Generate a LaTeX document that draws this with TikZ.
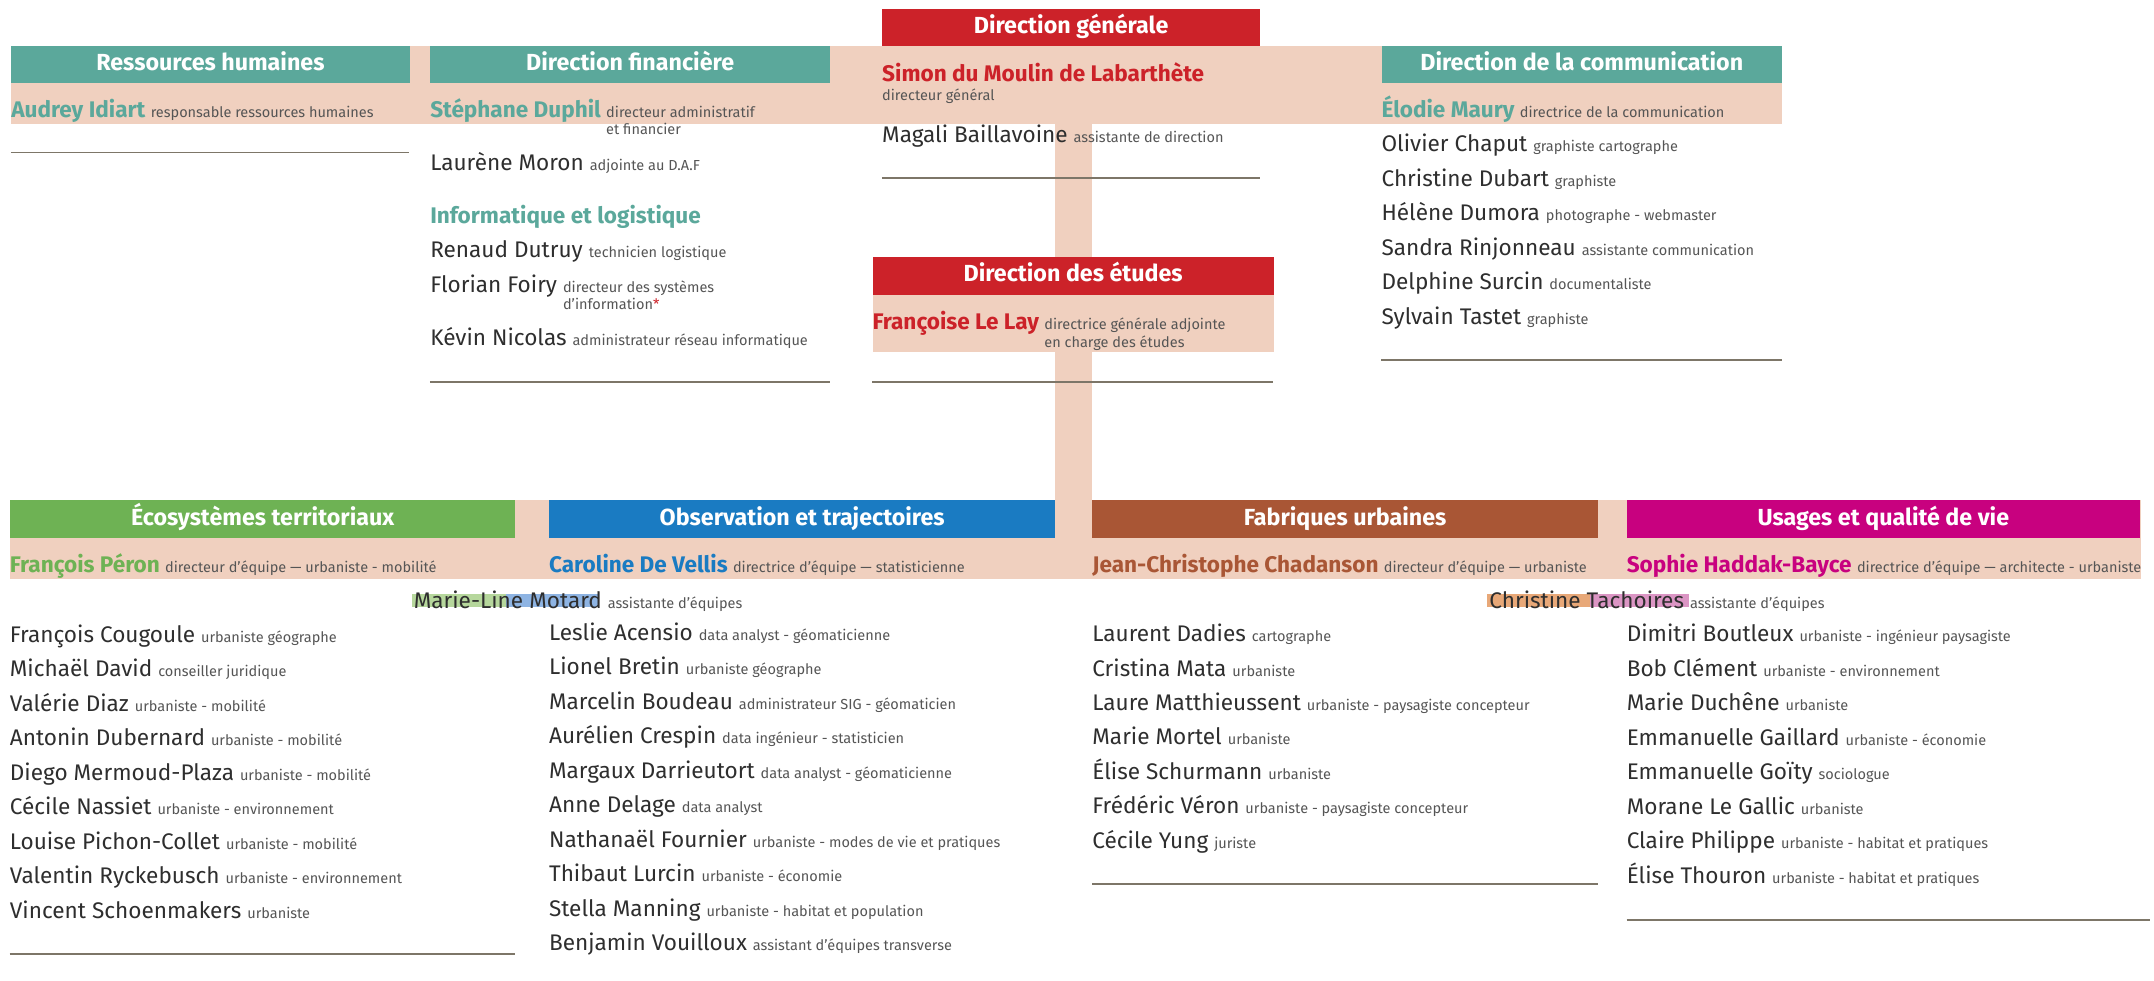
\documentclass[tikz,border=0pt]{standalone}
\usepackage{fontspec}
\setmainfont{Fira Sans}
\usetikzlibrary{positioning}

\definecolor{peach}{HTML}{F0D0BF}
\definecolor{sage}{HTML}{5BA89B}
\definecolor{dgred}{HTML}{CC2229}
\definecolor{ecogreen}{HTML}{6EB254}
\definecolor{obsblue}{HTML}{1A7BC2}
\definecolor{fabbrown}{HTML}{A95635}
\definecolor{usamagenta}{HTML}{C8017F}
\definecolor{namegray}{HTML}{2E2E2E}
\definecolor{rolegray}{HTML}{555555}
\definecolor{rulegray}{HTML}{7D7668}
\definecolor{hlgreen}{HTML}{B6D79C}
\definecolor{hlblue}{HTML}{8EB4E3}
\definecolor{hlorange}{HTML}{E8A878}
\definecolor{hlpink}{HTML}{DB95C4}

\newcommand{\fonction}[1]{{\fontsize{10.6}{12.8}\selectfont\mdseries\color{rolegray}#1}}
\newcommand{\deuxlignes}[2]{\begin{tabular}[t]{@{}l@{}}#1\\#2\end{tabular}}

\begin{document}
\begin{tikzpicture}[x=1bp,y=-1bp,
    head/.style={fill=#1,text=white,font=\fontsize{17}{20}\selectfont\bfseries,anchor=north west,minimum height=27.5bp,inner sep=0pt,text height=12bp,text depth=3.5bp},
    band/.style={fill=peach,anchor=north west,inner sep=0pt},
    person/.style={anchor=base west,inner sep=0pt,text=namegray,font=\fontsize{16.5}{19}\selectfont},
    chief/.style={person,text=#1,font=\fontsize{16.5}{19}\selectfont\bfseries},
    nextrow/.style={below=25.1bp of #1.base west,anchor=base west},
    trunk/.style={draw=peach,line width=27bp},
    trait/.style={draw=rulegray,line width=1.1bp}]

            \useasboundingbox (0,0) rectangle (1568,714.1);

            \node[band, minimum width=1289bp, minimum height=57bp] (topband) at (8,33) {};
            \node[band, minimum width=1551bp, minimum height=57bp] (botband) at (7,364) {};
            \coordinate (trunktop) at (781.5,90);
            \draw[trunk] (trunktop) -- (trunktop |- botband.north);

            \node[head=sage, minimum width=290bp] (rh) at (8,33) {Ressources humaines};
            \node[head=sage, minimum width=291bp] (df) at (313,33) {Direction financière};
            \node[head=dgred, minimum width=275bp] (dg) at (642,6) {Direction générale};
            \node[head=sage, minimum width=291.5bp] (dc) at (1005.5,33) {Direction de la communication};
            \node[band, minimum width=292bp, minimum height=41.4bp] (debox) at (635,214.6) {};
            \node[head=dgred, minimum width=292bp] (de) at (635,187) {Direction des études};

            \node[head=ecogreen, minimum width=368bp] (eco) at (7,364) {Écosystèmes territoriaux};
            \node[head=obsblue, minimum width=368.5bp] (obs) at (399.5,364) {Observation et trajectoires};
            \node[head=fabbrown, minimum width=368bp] (fab) at (795,364) {Fabriques urbaines};
            \node[head=usamagenta, minimum width=373.5bp] (usa) at (1184,364) {Usages et qualité de vie};

            \fill[hlgreen] (299.7,432.4) rectangle (368,442);
            \fill[hlblue] (368,432.4) rectangle (436,442);
            \fill[hlorange] (1082.5,432.4) rectangle (1157.5,442);
            \fill[hlpink] (1157.5,432.4) rectangle (1229.5,442);

            \node[chief=sage] (idiart) at (8,85.5) {Audrey Idiart \fonction{responsable ressources humaines}};

            \node[chief=sage] (duphil) at (313,85.5) {Stéphane Duphil \fonction{\deuxlignes{directeur administratif}{et financier}}};
            \node[person] (moron) at (313,124.2) {Laurène Moron \fonction{adjointe au D.A.F}};
            \node[chief=sage] (infolog) at (313,162.5) {Informatique et logistique};
            \node[person, nextrow=infolog] (dutruy) {Renaud Dutruy \fonction{technicien logistique}};
            \node[person, nextrow=dutruy] (foiry) {Florian Foiry \fonction{\deuxlignes{directeur des systèmes}{d’information{\color{dgred}*}}}};
            \node[person, below=38.9bp of foiry.base west, anchor=base west] (nicolas) {Kévin Nicolas \fonction{administrateur réseau informatique}};

            \node[chief=dgred] (simon) at (642,59) {Simon du Moulin de Labarthète};
            \node[person] (simonrole) at (642,72.8) {\fonction{directeur général}};
            \node[person] (magali) at (642,103.9) {Magali Baillavoine \fonction{assistante de direction}};

            \node[chief=dgred] (lelay) at (635,240) {Françoise Le Lay \fonction{\deuxlignes{directrice générale adjointe}{en charge des études}}};

            \node[chief=sage] (maury) at (1005.5,85.5) {Élodie Maury \fonction{directrice de la communication}};
            \node[person] (chaput) at (1005.5,110.4) {Olivier Chaput \fonction{graphiste cartographe}};
            \node[person, nextrow=chaput] (dubart) {Christine Dubart \fonction{graphiste}};
            \node[person, nextrow=dubart] (dumora) {Hélène Dumora \fonction{photographe - webmaster}};
            \node[person, nextrow=dumora] (rinjonneau) {Sandra Rinjonneau \fonction{assistante communication}};
            \node[person, nextrow=rinjonneau] (surcin) {Delphine Surcin \fonction{documentaliste}};
            \node[person, nextrow=surcin] (tastet) {Sylvain Tastet \fonction{graphiste}};

            \node[chief=ecogreen] (peron) at (7,416.9) {François Péron \fonction{directeur d’équipe — urbaniste - mobilité}};
            \node[person] (motard) at (301,442.7) {Marie-Line Motard \fonction{assistante d’équipes}};
            \node[person] (cougoule) at (7,467.6) {François Cougoule \fonction{urbaniste géographe}};
            \node[person, nextrow=cougoule] (david) {Michaël David \fonction{conseiller juridique}};
            \node[person, nextrow=david] (diaz) {Valérie Diaz \fonction{urbaniste - mobilité}};
            \node[person, nextrow=diaz] (dubernard) {Antonin Dubernard \fonction{urbaniste - mobilité}};
            \node[person, nextrow=dubernard] (mermoud) {Diego Mermoud-Plaza \fonction{urbaniste - mobilité}};
            \node[person, nextrow=mermoud] (nassiet) {Cécile Nassiet \fonction{urbaniste - environnement}};
            \node[person, nextrow=nassiet] (pichon) {Louise Pichon-Collet \fonction{urbaniste - mobilité}};
            \node[person, nextrow=pichon] (ryckebusch) {Valentin Ryckebusch \fonction{urbaniste - environnement}};
            \node[person, nextrow=ryckebusch] (schoenmakers) {Vincent Schoenmakers \fonction{urbaniste}};

            \node[chief=obsblue] (vellis) at (399.5,416.9) {Caroline De Vellis \fonction{directrice d’équipe — statisticienne}};
            \node[person] (acensio) at (399.5,466.2) {Leslie Acensio \fonction{data analyst - géomaticienne}};
            \node[person, nextrow=acensio] (bretin) {Lionel Bretin \fonction{urbaniste géographe}};
            \node[person, nextrow=bretin] (boudeau) {Marcelin Boudeau \fonction{administrateur SIG - géomaticien}};
            \node[person, nextrow=boudeau] (crespin) {Aurélien Crespin \fonction{data ingénieur - statisticien}};
            \node[person, nextrow=crespin] (darrieutort) {Margaux Darrieutort \fonction{data analyst - géomaticienne}};
            \node[person, nextrow=darrieutort] (delage) {Anne Delage \fonction{data analyst}};
            \node[person, nextrow=delage] (fournier) {Nathanaël Fournier \fonction{urbaniste - modes de vie et pratiques}};
            \node[person, nextrow=fournier] (lurcin) {Thibaut Lurcin \fonction{urbaniste - économie}};
            \node[person, nextrow=lurcin] (manning) {Stella Manning \fonction{urbaniste - habitat et population}};
            \node[person, nextrow=manning] (vouilloux) {Benjamin Vouilloux \fonction{assistant d’équipes transverse}};

            \node[chief=fabbrown] (chadanson) at (795,416.9) {Jean-Christophe Chadanson \fonction{directeur d’équipe — urbaniste}};
            \node[person] (dadies) at (795,467) {Laurent Dadies \fonction{cartographe}};
            \node[person, nextrow=dadies] (mata) {Cristina Mata \fonction{urbaniste}};
            \node[person, nextrow=mata] (matthieussent) {Laure Matthieussent \fonction{urbaniste - paysagiste concepteur}};
            \node[person, nextrow=matthieussent] (mortel) {Marie Mortel \fonction{urbaniste}};
            \node[person, nextrow=mortel] (schurmann) {Élise Schurmann \fonction{urbaniste}};
            \node[person, nextrow=schurmann] (veron) {Frédéric Véron \fonction{urbaniste - paysagiste concepteur}};
            \node[person, nextrow=veron] (yung) {Cécile Yung \fonction{juriste}};

            \node[chief=usamagenta] (haddak) at (1184,416.9) {Sophie Haddak-Bayce \fonction{directrice d’équipe — architecte - urbaniste}};
            \node[person] (tachoires) at (1084,442.7) {Christine Tachoires \fonction{assistante d’équipes}};
            \node[person] (boutleux) at (1184,467.1) {Dimitri Boutleux \fonction{urbaniste - ingénieur paysagiste}};
            \node[person, nextrow=boutleux] (clement) {Bob Clément \fonction{urbaniste - environnement}};
            \node[person, nextrow=clement] (duchene) {Marie Duchêne \fonction{urbaniste}};
            \node[person, nextrow=duchene] (gaillard) {Emmanuelle Gaillard \fonction{urbaniste - économie}};
            \node[person, nextrow=gaillard] (goity) {Emmanuelle Goïty \fonction{sociologue}};
            \node[person, nextrow=goity] (legallic) {Morane Le Gallic \fonction{urbaniste}};
            \node[person, nextrow=legallic] (philippe) {Claire Philippe \fonction{urbaniste - habitat et pratiques}};
            \node[person, nextrow=philippe] (thouron) {Élise Thouron \fonction{urbaniste - habitat et pratiques}};

            \draw[trait] (8,111.1) -- (298,111.1);
            \draw[trait] (313,277.9) -- (604,277.9);
            \draw[trait] (642,129.5) -- (917,129.5);
            \draw[trait] (635,278) -- (927,278);
            \draw[trait] (1005.5,262.2) -- (1297,262.2);
            \draw[trait] (7,694.5) -- (375,694.5);
            \draw[trait] (795,643.5) -- (1163,643.5);
            \draw[trait] (1184,669.7) -- (1565,669.7);
        \end{tikzpicture}
\end{document}
